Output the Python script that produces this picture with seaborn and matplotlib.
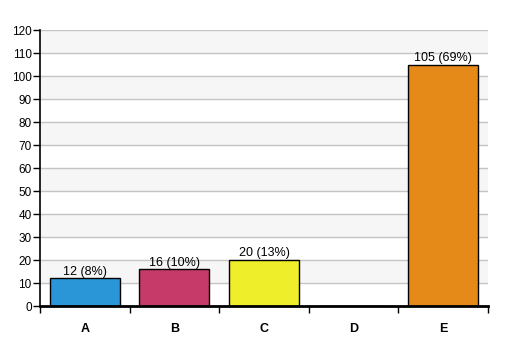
import matplotlib
matplotlib.use("Agg")
import matplotlib.pyplot as plt
import seaborn as sns
import pandas as pd
import numpy as np

categories = ["A", "B", "C", "D", "E"]
values = [12, 16, 20, 0, 105]
colors = ["#2a96d8", "#c63a6a", "#eeee2a", "#888888", "#e58a18"]
yticks = list(range(0, 121, 10))

sns.set_theme(style="white")
plt.rcParams['font.family'] = ['Liberation Sans', 'DejaVu Sans']

df = pd.DataFrame({"cat": categories, "val": values})
fig = plt.figure(figsize=(5.07, 3.56), dpi=100)
ax = fig.add_axes([0.079, 0.1404, 0.8835, 0.7753])

# alternating bands
for lo in range(10, 120, 20):
    ax.axhspan(lo, lo + 10, color="#f6f6f6", zorder=0, lw=0)
for y in yticks[1:]:
    ax.axhline(y, color="#c4c4c4", lw=1, zorder=1)

sns.barplot(data=df, x="cat", y="val", hue="cat", palette=colors, legend=False,
            saturation=1, width=0.78, edgecolor="black", linewidth=1, ax=ax, zorder=2)

total = sum(values)
for i, v in enumerate(values):
    if v > 0:
        ax.text(i, v + 0.3, f"{v} ({round(v / total * 100)}%)", ha="center", va="bottom",
                fontsize=9, color="black", zorder=3)

ax.set_xlim(-0.5, len(categories) - 0.5)
ax.set_ylim(0, 120)
ax.set_yticks(yticks)
ax.set_yticklabels([str(t) for t in yticks], fontsize=8.5, color="black")
ax.set_xticks(np.arange(-0.5, len(categories), 1.0))
ax.set_xticklabels([])
ax.set_xticks(range(len(categories)), minor=True)
ax.set_xticklabels(categories, minor=True, fontsize=9, fontweight="bold", color="black")
ax.tick_params(axis="x", which="major", length=5, width=1, color="black", direction="out", bottom=True)
ax.tick_params(axis="x", which="minor", length=0, pad=12)
ax.tick_params(axis="y", length=5, width=1, color="black", direction="out", left=True, pad=1)
ax.set_xlabel("")
ax.set_ylabel("")
for s in ["top", "right"]:
    ax.spines[s].set_visible(False)
ax.spines["left"].set_color("black")
ax.spines["left"].set_linewidth(1.2)
ax.spines["bottom"].set_color("black")
ax.spines["bottom"].set_linewidth(2)
ax.set_facecolor("white")

fig.savefig("out.png", dpi=100)
